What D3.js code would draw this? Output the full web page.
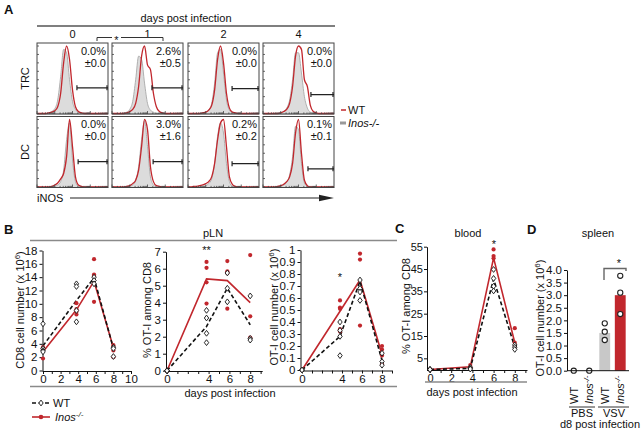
<!DOCTYPE html>
<html><head><meta charset="utf-8">
<script src="https://cdn.jsdelivr.net/npm/d3@7/dist/d3.min.js"></script>
<style>html,body{margin:0;padding:0;background:#fff}svg{display:block}</style>
</head><body>
<svg id="chart" width="642" height="432" xmlns="http://www.w3.org/2000/svg"></svg>
<script>
// ================= DATA =================
// Panel A
const aDays = ["0","1","2","4"];
const aRows = ["TRC","DC"];
const aPct = [["0.0%","2.6%","0.0%","0.0%"],["0.0%","3.0%","0.2%","0.1%"]];
const aSd  = [["±0.0","±0.5","±0.0","±0.0"],["±0.0","±1.6","±0.2","±0.1"]];
const aGateStart = [[13.5,13.5,14.9,16.2],[13.9,13.9,14.9,15.2]];
const aGateLevel = [[0.38,0.38,0.37,0.28],[0.375,0.375,0.345,0.27]];
const histWT = [
 [[0,0,0,0,0.01,0.02,0.04,0.1,0.3,0.75,1.0,0.8,0.35,0.1,0.03,0.01,0,0,0,0,0,0,0,0,0],
  [0,0,0,0,0,0.01,0.03,0.06,0.15,0.4,0.85,1.0,0.72,0.65,0.3,0.1,0.03,0.01,0,0,0,0,0,0,0],
  [0,0,0,0,0,0.01,0.02,0.05,0.12,0.35,0.8,1.0,0.75,0.3,0.08,0.02,0.01,0,0,0,0,0,0,0,0],
  [0,0,0,0,0,0,0.01,0.03,0.06,0.15,0.4,0.85,1.0,0.95,0.5,0.4,0.12,0.03,0.01,0,0,0,0,0,0]],
 [[0,0,0,0,0,0.01,0.03,0.06,0.12,0.2,0.45,1.0,0.6,0.15,0.03,0.01,0,0,0,0,0,0,0,0,0],
  [0,0,0,0,0,0.01,0.02,0.05,0.1,0.25,0.6,1.0,0.85,0.3,0.08,0.02,0.01,0,0,0,0,0,0,0,0],
  [0,0,0.01,0.01,0.02,0.03,0.05,0.08,0.15,0.35,0.7,0.95,1.0,0.6,0.15,0.04,0.01,0,0,0,0,0,0,0,0],
  [0,0,0,0,0,0.01,0.02,0.04,0.08,0.15,0.35,0.8,1.0,0.5,0.1,0.02,0,0,0,0,0,0,0,0,0]]
];
const histKO = [
 [[0,0,0,0,0.01,0.03,0.07,0.2,0.55,0.95,0.9,0.5,0.18,0.06,0.02,0.01,0,0,0,0,0,0,0,0,0],
  [0,0,0,0,0.01,0.02,0.06,0.18,0.5,0.85,0.8,0.45,0.15,0.05,0.02,0,0,0,0,0,0,0,0,0,0],
  [0,0,0,0,0,0.01,0.02,0.05,0.15,0.45,0.9,0.95,0.6,0.2,0.05,0.01,0,0,0,0,0,0,0,0,0],
  [0,0,0,0,0,0,0.01,0.03,0.08,0.2,0.5,0.9,0.9,0.6,0.25,0.08,0.02,0,0,0,0,0,0,0,0]],
 [[0,0,0,0,0,0,0.01,0.03,0.08,0.25,0.7,0.95,0.4,0.08,0.01,0,0,0,0,0,0,0,0,0,0],
  [0,0,0,0,0,0,0.01,0.03,0.1,0.3,0.7,0.98,0.6,0.15,0.03,0,0,0,0,0,0,0,0,0,0],
  [0,0,0,0,0,0.01,0.02,0.05,0.12,0.35,0.75,0.95,0.8,0.35,0.08,0.01,0,0,0,0,0,0,0,0,0],
  [0,0,0,0,0,0,0.01,0.03,0.07,0.18,0.45,0.9,0.85,0.35,0.06,0.01,0,0,0,0,0,0,0,0,0]]
];

// Panel B (pLN)
const bDays = [0, 3.8, 5.8, 8];
const cd8WTPts  = [[7.0,3.3,3.0,2.8],[13.0,12.6,9.0,7.3],[14.0,13.5,13.0],[3.5,3.3,2.1]];
const cd8WTMean = [3.7, 10.5, 13.9, 3.3];
const cd8KOPts  = [[3.5,3.2,1.8],[10.1,9.2,8.8,8.4],[16.7,14.4,14.2,10.3],[3.8,3.0,2.0]];
const cd8KOMean = [2.8, 9.1, 13.4, 3.4];

const pctWTPts  = [[0,0,0],[3.55,3.1,2.2,1.65],[5.75,4.85,4.05],[4.4,1.9,1.8]];
const pctWTMean = [0, 2.6, 4.85, 2.7];
const pctKOPts  = [[0,0,0],[6.4,6.05,5.2,3.95],[6.45,5.85,5.75,3.65],[6.8,3.2,1.95,1.9]];
const pctKOMean = [0, 5.4, 5.3, 4.0];

const otWTPts  = [[0,0,0],[0.40,0.33,0.28,0.12],[0.75,0.68,0.65,0.58],[0.14,0.07,0.04]];
const otWTMean = [0, 0.28, 0.74, 0.08];
const otKOPts  = [[0,0,0],[0.58,0.52,0.51,0.34,0.32],[0.97,0.92,0.37],[0.20,0.17,0.12,0.05]];
const otKOMean = [0, 0.49, 0.75, 0.13];

// Panel C (blood)
const cDays = [0, 3.8, 6, 8];
const bloodWTPts  = [[0,0,0],[1.0,0.5,0.2],[44.8,40.8,37.3,35.2],[11,10,9]];
const bloodWTMean = [0, 0.5, 40.5, 10];
const bloodKOPts  = [[0,0,0],[2.0,1.0,0.5],[53.8,50.8,49.8],[18.5,12,10.5]];
const bloodKOMean = [0, 1.2, 50, 12];

// Panel D (spleen)
const spleenGenotype = ["WT","Inos","WT","Inos"];
const spleenGroup = ["PBS","VSV"];
const spleenMean = [0, 0, 1.5, 3.0];
const spleenPts = [[0],[0],[1.88,1.55,1.22],[3.77,3.1,2.25]];

// ================= DRAWING =================
const RED = "#c1272d";
const FONT = '"Liberation Sans", Arial, Helvetica, sans-serif';
const svg = d3.select("#chart");
svg.append("rect").attr("width",642).attr("height",432).attr("fill","#fff");

function label(x,y,s,o={}){
  const t = svg.append("text").attr("x",x).attr("y",y)
    .attr("font-family",FONT).attr("font-size",o.size||11)
    .attr("text-anchor",o.anchor||"start").attr("fill",o.fill||"#111");
  if(o.bold) t.attr("font-weight","bold");
  if(o.italic) t.attr("font-style","italic");
  if(o.rotate) t.attr("transform",`rotate(${o.rotate},${x},${y})`);
  if(s!==null) t.text(s);
  return t;
}
function hline(x1,x2,y,col,w){svg.append("line").attr("x1",x1).attr("x2",x2).attr("y1",y).attr("y2",y).attr("stroke",col).attr("stroke-width",w);}
function ylabel10(x,y,main){
  const t = label(x,y,null,{rotate:-90,anchor:"middle"});
  t.append("tspan").text(main+" (x 10");
  t.append("tspan").attr("dy",-4).attr("font-size",8).text("6");
  t.append("tspan").attr("dy",4).text(")");
}
function inosText(t){
  t.append("tspan").attr("font-style","italic").text("Inos");
  t.append("tspan").attr("font-style","italic").attr("dy",-4).attr("font-size",8).text("-/-");
}

// ----- Panel A -----
const aLeft=[37,112,188,263], aW=71, aTop=[43,116.5], aH=71;
label(4,14,"A",{size:13,bold:true});
label(186,22,"days post infection",{anchor:"middle"});
hline(37,335,26,"#555",1.3);
aDays.forEach((d,i)=>label(aLeft[i]+aW/2,37.5,d,{anchor:"middle"}));
svg.append("path").attr("d","M97,41V37.5H112M121,37.5H163V41").attr("fill","none").attr("stroke","#333").attr("stroke-width",1);
label(116.5,44,"*",{anchor:"middle"});

aRows.forEach((rn,r)=>{
  const T=aTop[r], B=T+aH;
  label(29,(T+B)/2,rn,{rotate:-90,anchor:"middle"});
  aDays.forEach((d,c)=>{
    const L=aLeft[c];
    const x=d3.scaleLinear().domain([0,24]).range([L,L+aW]);
    const y=d3.scaleLinear().domain([0,1]).range([B-0.5,T+3]);
    const area=d3.area().x((v,i)=>x(i)).y0(B).y1(v=>y(v)).curve(d3.curveMonotoneX);
    const line=d3.line().x((v,i)=>x(i)).y(v=>y(v)).curve(d3.curveMonotoneX);
    svg.append("path").datum(histKO[r][c]).attr("d",area).attr("fill","#dcdcdc").attr("stroke","#a8a8a8").attr("stroke-width",0.9);
    svg.append("path").datum(histWT[r][c]).attr("d",line).attr("fill","none").attr("stroke",RED).attr("stroke-width",1.3);
    svg.append("rect").attr("x",L).attr("y",T).attr("width",aW).attr("height",aH).attr("fill","none").attr("stroke","#444").attr("stroke-width",1);
    d3.range(0,1.01,0.125).forEach(f=>{
      svg.append("line").attr("x1",L).attr("x2",L+2).attr("y1",y(f)).attr("y2",y(f)).attr("stroke","#444").attr("stroke-width",0.8);
    });
    const dec=aW/4;
    for(let k=0;k<4;k++){ for(let m=1;m<=9;m++){
      const xx=L+(k+Math.log10(m))*dec; const len=m===1?3:1.6;
      svg.append("line").attr("x1",xx).attr("x2",xx).attr("y1",B).attr("y2",B-len).attr("stroke","#444").attr("stroke-width",0.8);
    }}
    const gy=y(aGateLevel[r][c]), gx=x(aGateStart[r][c]);
    svg.append("path").attr("d",`M${gx},${gy-2.5}V${gy+2.5}M${gx},${gy}H${L+aW}M${L+aW-1},${gy-2.5}V${gy+2.5}`)
      .attr("stroke","#222").attr("stroke-width",1.2).attr("fill","none");
    label(L+aW-2,T+11.5,aPct[r][c],{anchor:"end"});
    label(L+aW-2,T+23.5,aSd[r][c],{anchor:"end"});
  });
});
label(37,202,"iNOS");
hline(70,322,198,"#222",1.2);
svg.append("path").attr("d","M319,194.8L334,198L319,201.2Z").attr("fill","#222");
hline(341,346,110,RED,1.5);
label(348,114,"WT");
hline(340,346,123,"#999",3);
label(348,127,"Inos-/-",{italic:true});

// ----- scatter helper -----
function scatter(cfg){
  const x=d3.scaleLinear().domain(cfg.xd).range(cfg.xr);
  const y=d3.scaleLinear().domain(cfg.yd).range(cfg.yr);
  const g=svg.append("g");
  const gy=g.append("g").attr("transform",`translate(${cfg.ax},0)`)
    .call(d3.axisLeft(y).tickValues(cfg.yt).tickFormat(cfg.yf||(d=>d)).tickSize(3).tickSizeOuter(0).tickPadding(cfg.pad||2));
  const gx=g.append("g").attr("transform",`translate(0,${cfg.ay})`)
    .call(d3.axisBottom(x).tickValues(cfg.xt).tickFormat(d=>cfg.xl.includes(d)?d:"").tickSize(3).tickSizeOuter(0).tickPadding(1));
  [gy,gx].forEach(a=>{a.attr("font-family",FONT).attr("font-size",cfg.fs||11.5);
    a.selectAll("text").attr("fill","#111"); a.selectAll("line,path").attr("stroke","#111");});
  gx.select(".domain").attr("d",`M${cfg.ax},0.5H${cfg.xr[1]}`);
  const ln=d3.line().x((d,i)=>x(cfg.days[i])).y(d=>y(d));
  g.append("path").datum(cfg.koMean).attr("d",ln).attr("fill","none").attr("stroke",RED).attr("stroke-width",1.6);
  g.append("path").datum(cfg.wtMean).attr("d",ln).attr("fill","none").attr("stroke","#111").attr("stroke-width",1.6).attr("stroke-dasharray","4,2.5");
  cfg.koPts.forEach((arr,i)=>arr.forEach(v=>g.append("circle").attr("cx",x(cfg.days[i])).attr("cy",y(v)).attr("r",2.1).attr("fill",RED)));
  cfg.wtPts.forEach((arr,i)=>arr.forEach(v=>g.append("path").attr("d","M0,-2.9L2.2,0L0,2.9L-2.2,0Z")
    .attr("transform",`translate(${x(cfg.days[i])},${y(v)})`).attr("fill","#fff").attr("stroke","#111").attr("stroke-width",0.9)));
  return {x,y};
}

// ----- Panel B -----
label(4,234,"B",{size:13,bold:true});
label(213,237,"pLN",{anchor:"middle"});
hline(30,397,240.5,"#8a8a8a",1.6);
hline(30,397,386.5,"#8a8a8a",1.6);
label(230,397,"days post infection",{anchor:"middle"});

scatter({xd:[0,10],xr:[43,131],yd:[0,18],yr:[370.5,250.5],ax:42.5,ay:371,
  yt:d3.range(0,19,2),xt:d3.range(0,11,1),xl:[0,2,4,6,8,10],
  days:bDays,wtPts:cd8WTPts,wtMean:cd8WTMean,koPts:cd8KOPts,koMean:cd8KOMean});
ylabel10(24,310,"CD8 cell number");

scatter({xd:[0,9.2],xr:[167,262.7],yd:[0,7],yr:[370.7,251.7],ax:166,ay:371,
  yt:d3.range(0,8,1),xt:d3.range(0,10,1),xl:[0,4,6,8],
  days:bDays,wtPts:pctWTPts,wtMean:pctWTMean,koPts:pctKOPts,koMean:pctKOMean});
label(151,310,"% OT-I among CD8",{rotate:-90,anchor:"middle"});
label(206.5,254,"**",{anchor:"middle"});

scatter({xd:[0,9],xr:[302,392],yd:[0,1],yr:[370,250],ax:300.5,ay:370.5,
  yt:d3.range(0,11).map(i=>i/10),yf:d=>(d===0||d===1)?d3.format("d")(d):d3.format(".1f")(d),
  xt:d3.range(0,10,1),xl:[0,4,6,8],
  days:bDays,wtPts:otWTPts,wtMean:otWTMean,koPts:otKOPts,koMean:otKOMean});
ylabel10(278,307,"OT-I cell number");
label(340,281,"*",{anchor:"middle"});

// legend B
svg.append("line").attr("x1",32).attr("x2",50).attr("y1",403).attr("y2",403).attr("stroke","#111").attr("stroke-width",1.6).attr("stroke-dasharray","4,2.5");
svg.append("path").attr("d","M0,-2.9L2.2,0L0,2.9L-2.2,0Z").attr("transform","translate(41,403)").attr("fill","#fff").attr("stroke","#111").attr("stroke-width",0.9);
label(53,407,"WT");
hline(32,50,417,RED,1.6);
svg.append("circle").attr("cx",41).attr("cy",417).attr("r",2.3).attr("fill",RED);
inosText(label(55,421,null));

// ----- Panel C -----
label(395,233,"C",{size:13,bold:true});
label(468,237,"blood",{anchor:"middle"});
scatter({xd:[0,9.2],xr:[430,527.5],yd:[0,55],yr:[369.5,246.7],ax:427,ay:370,fs:11,pad:1,
  yt:[5,15,25,35,45,55],xt:d3.range(0,10,1),xl:[0,2,4,6,8],
  days:cDays,wtPts:bloodWTPts,wtMean:bloodWTMean,koPts:bloodKOPts,koMean:bloodKOMean});
label(410,306,"% OT-I among CD8",{rotate:-90,anchor:"middle"});
label(494,248,"*",{anchor:"middle"});
hline(425,527,382,"#8a8a8a",1.6);
label(472,396,"days post infection",{anchor:"middle"});

// ----- Panel D -----
label(527,234,"D",{size:13,bold:true});
label(598,237,"spleen",{anchor:"middle"});
const xD=d3.scaleBand().domain(d3.range(4)).range([566,628]).paddingInner(0.3).paddingOuter(0.15);
const yD=d3.scaleLinear().domain([0,4]).range([370.7,270]);
const gD=svg.append("g");
const barCol=["#c8c8c8",RED,"#c8c8c8",RED];
gD.selectAll("rect.bar").data(spleenMean).join("rect").attr("class","bar")
  .attr("x",(d,i)=>xD(i)).attr("width",xD.bandwidth()).attr("y",d=>yD(d)).attr("height",d=>yD(0)-yD(d)).attr("fill",(d,i)=>barCol[i]);
const gyD=gD.append("g").attr("transform","translate(567,0)")
  .call(d3.axisLeft(yD).tickValues(d3.range(0,4.01,0.5)).tickFormat(d3.format(".1f")).tickSize(3).tickSizeOuter(0).tickPadding(2));
gyD.attr("font-family",FONT).attr("font-size",11.5); gyD.selectAll("text").attr("fill","#111"); gyD.selectAll("line,path").attr("stroke","#111");
hline(567,629,370.7,"#111",1);
spleenPts.forEach((arr,i)=>arr.forEach(v=>gD.append("circle").attr("cx",xD(i)+xD.bandwidth()/2).attr("cy",yD(v)).attr("r",2.6)
  .attr("fill","#fff").attr("stroke","#222").attr("stroke-width",1.1)));
ylabel10(544,318,"OT-I cell number");
spleenGenotype.forEach((gn,i)=>{
  const cx=xD(i)+xD.bandwidth()/2+4;
  const t=label(cx,404,null,{rotate:-90,anchor:"start"});
  if(gn==="WT") t.text("WT"); else inosText(t);
});
hline(569,595,407,"#333",1);
hline(598,629,407,"#333",1);
label(582,417,spleenGroup[0],{anchor:"middle"});
label(614,417,spleenGroup[1],{anchor:"middle"});
label(600,428,"d8 post infection",{anchor:"middle"});
svg.append("path").attr("d","M604,280V268.5H626V271").attr("fill","none").attr("stroke","#666").attr("stroke-width",1.4);
label(619,267,"*",{anchor:"middle"});
</script>
</body></html>
